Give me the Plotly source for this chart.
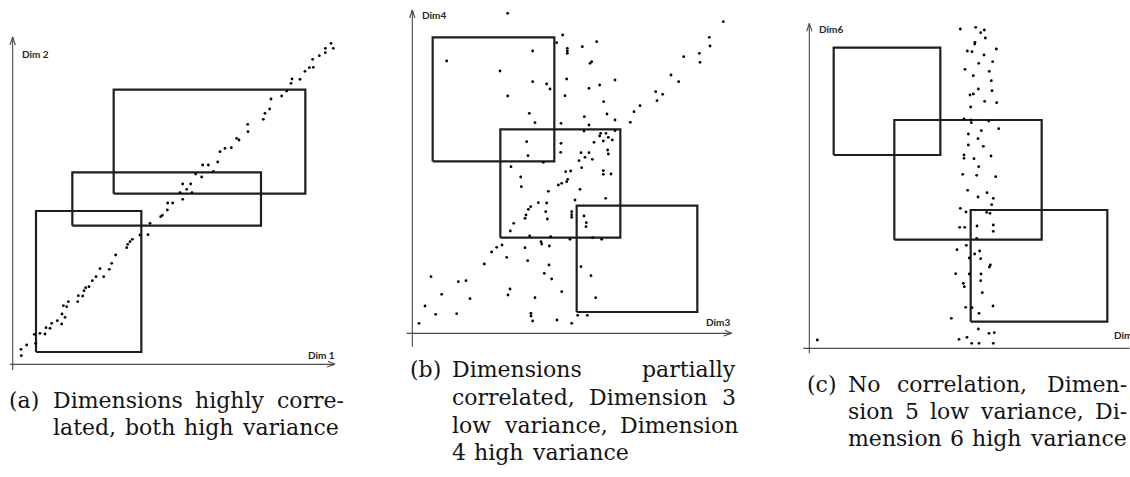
import plotly.graph_objects as go

W, H = 1130, 477

# ---------------- Panel (a): Dim 1 vs Dim 2, strongly correlated ----------------
a_dim1 = [25, 26, 42, 65, 69, 82, 97, 100, 112, 117, 134, 147, 148, 157, 152, 162, 167, 195, 197, 210,
          214, 219, 229, 239, 250, 262, 273, 290, 297, 309, 342, 345, 352, 359, 382, 406, 412, 444, 449, 464,
          465, 480, 510, 502, 522, 538, 510, 534, 549, 567, 570, 587, 602, 615, 622, 637, 656, 672, 679, 705,
          706, 752, 757, 771, 775, 807, 822, 835, 838, 862, 877, 890, 902, 900, 920, 938, 938, 955, 962]
a_dim2 = [45, 26, 58, 90, 63, 93, 91, 110, 108, 123, 131, 121, 151, 141, 176, 173, 188, 188, 206, 205,
          221, 230, 233, 251, 263, 287, 263, 285, 303, 328, 350, 360, 368, 375, 388, 389, 423, 443, 447, 463,
          484, 484, 495, 515, 525, 515, 541, 541, 571, 562, 598, 598, 579, 607, 638, 648, 650, 678, 673, 720,
          698, 735, 753, 766, 796, 805, 820, 843, 856, 855, 879, 890, 891, 915, 926, 935, 948, 963, 948]
a_box_x0 = [70, 179, 303]
a_box_x1 = [386, 745, 878]
a_box_y0 = [37, 416, 512]
a_box_y1 = [460, 576, 824]

# ---------------- Panel (b): Dim 3 vs Dim 4, partially correlated ----------------
b_dim3 = [286, 933, 451, 433, 553, 510, 465, 465, 465, 891, 893, 361, 103, 538, 533, 861, 863, 814, 263, 361,
          403, 413, 463, 530, 562, 608, 776, 799, 286, 458, 730, 751, 734, 574, 683, 665, 584, 351, 516, 368,
          446, 530, 608, 654, 515, 565, 581, 608, 562, 600, 343, 446, 545, 573, 588, 445, 347, 393, 506, 530,
          518, 500, 586, 588, 540, 296, 508, 475, 460, 466, 463, 573, 573, 596, 325, 448, 438, 327, 408, 503,
          488, 580, 378, 403, 355, 348, 341, 338, 400, 405, 478, 478, 478, 515, 522, 521, 304, 294, 352, 415,
          473, 541, 568, 386, 388, 269, 253, 238, 338, 411, 283, 346, 410, 216, 506, 536, 396, 418, 56, 138,
          161, 293, 287, 88, 173, 368, 448, 550, 38, 70, 133, 356, 356, 361, 434, 478, 496, 525, 20]
b_dim4 = [960, 935, 895, 872, 875, 860, 855, 847, 840, 888, 862, 847, 817, 815, 810, 840, 813, 830, 787, 755,
          748, 733, 763, 735, 745, 760, 775, 755, 712, 713, 725, 717, 698, 695, 683, 665, 658, 660, 650, 632,
          630, 625, 640, 633, 607, 600, 600, 608, 592, 580, 575, 570, 573, 577, 588, 543, 533, 513, 542, 542,
          528, 518, 550, 538, 522, 500, 497, 487, 485, 462, 455, 488, 477, 478, 469, 450, 445, 440, 426, 432,
          400, 405, 392, 391, 380, 372, 355, 345, 365, 343, 365, 356, 348, 352, 332, 320, 330, 307, 292, 290,
          282, 287, 282, 275, 268, 265, 258, 244, 257, 262, 228, 218, 205, 208, 200, 173, 180, 163, 170, 155,
          158, 133, 115, 117, 104, 107, 125, 107, 82, 57, 59, 60, 52, 37, 40, 30, 54, 54, 30]
b_box_x0 = [61, 264, 493]
b_box_x1 = [426, 624, 855]
b_box_y0 = [516, 287, 64]
b_box_y1 = [888, 612, 383]

# ---------------- Panel (c): Dim 5 vs Dim 6, no correlation ----------------
c_dim5 = [453, 499, 514, 525, 528, 497, 496, 474, 488, 561, 524, 550, 508, 467, 540, 492, 546, 507, 492, 482,
          548, 526, 562, 484, 464, 484, 486, 538, 568, 516, 477, 506, 477, 522, 464, 464, 494, 545, 508, 460,
          502, 559, 475, 506, 533, 552, 547, 453, 470, 532, 542, 451, 466, 503, 552, 552, 502, 471, 443, 496,
          511, 480, 514, 543, 540, 439, 480, 515, 514, 462, 465, 519, 469, 488, 551, 509, 426, 507, 539, 555,
          449, 473, 487, 509, 552, 24]
c_dim6 = [958, 963, 947, 955, 931, 918, 913, 892, 890, 898, 880, 860, 855, 837, 831, 818, 803, 778, 763, 760,
          773, 741, 737, 724, 688, 685, 677, 682, 659, 653, 643, 629, 610, 606, 580, 570, 569, 577, 545, 522,
          519, 515, 474, 454, 467, 450, 431, 420, 409, 408, 405, 363, 363, 367, 370, 351, 330, 309, 296, 283,
          292, 271, 269, 250, 244, 224, 223, 223, 203, 195, 185, 167, 123, 122, 127, 105, 90, 58, 45, 47,
          27, 33, 15, 15, 15, 25]
c_box_x0 = [73, 255, 484]
c_box_x1 = [393, 697, 894]
c_box_y0 = [580, 326, 80]
c_box_y1 = [902, 685, 415]

axis_names = [("Dim 2", "Dim 1"), ("Dim4", "Dim3"), ("Dim6", "Dim5")]

# Sub-captions: (label, label_left, text_left, [(line, right_edge, baseline), ...])
captions = [
    ("(a)", 8, 52, [("Dimensions highly corre-", 343, 407),
                    ("lated, both high variance", 337, 434)]),
    ("(b)", 409, 451, [("Dimensions partially", 735, 376),
                       ("correlated, Dimension 3", 735, 404),
                       ("low variance, Dimension", 737, 432),
                       ("4 high variance", 627, 459)]),
    ("(c)", 806, 847, [("No correlation, Dimen-", 1125, 391),
                       ("sion 5 low variance, Di-", 1125, 418),
                       ("mension 6 high variance", 1125, 445)]),
]

panels = [
    dict(x=a_dim1, y=a_dim2, bx0=a_box_x0, bx1=a_box_x1, by0=a_box_y0, by1=a_box_y1),
    dict(x=b_dim3, y=b_dim4, bx0=b_box_x0, bx1=b_box_x1, by0=b_box_y0, by1=b_box_y1),
    dict(x=c_dim5, y=c_dim6, bx0=c_box_x0, bx1=c_box_x1, by0=c_box_y0, by1=c_box_y1),
]

# Frame of each panel: axis origin on the page (px), data ranges (3 units per px),
# axis line extents and label anchors.
frames = [
    dict(ox=12.67, oy=364.33, xr=[-36, 1000], yr=[-45, 1000],
         xline=[-8, 967], yline=[-17, 982],
         ylab=(22, 931, "left"), xlab=(973, 27, "right")),
    dict(ox=412.33, oy=333.33, xr=[-40, 1000], yr=[-45, 998],
         xline=[-17, 958], yline=[-40, 970],
         ylab=(23, 955, "left"), xlab=(959, 34, "right")),
    dict(ox=809.33, oy=348.33, xr=[-40, 961], yr=[-45, 1000],
         xline=[-18, 990], yline=[-15, 975],
         ylab=(23, 958, "left"), xlab=(907, 40, "left")),
]

SCALE = 3.0
AXIS_COLOR = "#4a4a4a"
BOX_COLOR = "#1e1e1e"
CAP_FONT = "DejaVu Serif, Liberation Serif, serif"
CAP_SIZE = 22

# approximate DejaVu Serif advance widths (em) for justified caption lines
GLYPH_W = {
    " ": .318, "(": .390, ")": .390, ",": .318, "-": .337,
    "3": .636, "4": .636, "5": .636, "6": .636,
    "D": .770, "N": .750,
    "a": .596, "b": .642, "c": .561, "d": .642, "e": .592, "g": .642, "h": .645,
    "i": .320, "l": .320, "m": .948, "n": .645, "o": .602, "p": .642, "r": .478,
    "s": .513, "t": .402, "v": .581, "w": .855, "y": .581,
}


def word_width(w):
    return sum(GLYPH_W.get(ch, .6) for ch in w) * CAP_SIZE


fig = go.Figure()
shapes = []
annotations = []
layout_axes = {}

for i, (pan, fr) in enumerate(zip(panels, frames)):
    k = "" if i == 0 else str(i + 1)
    xref, yref = "x" + k, "y" + k
    x0 = (fr["ox"] + fr["xr"][0] / SCALE) / W
    x1 = (fr["ox"] + fr["xr"][1] / SCALE) / W
    y0 = (H - fr["oy"] + fr["yr"][0] / SCALE) / H
    y1 = (H - fr["oy"] + fr["yr"][1] / SCALE) / H
    common = dict(visible=False, showgrid=False, zeroline=False, fixedrange=True)
    layout_axes["xaxis" + k] = dict(domain=[max(0, x0), min(1, x1)], range=fr["xr"], anchor=yref, **common)
    layout_axes["yaxis" + k] = dict(domain=[max(0, y0), min(1, y1)], range=fr["yr"], anchor=xref, **common)

    # axis lines with open arrowheads
    xa, xb = fr["xline"]
    ya, yb = fr["yline"]
    line = dict(color=AXIS_COLOR, width=1.1)
    shapes += [
        dict(type="line", xref=xref, yref=yref, x0=xa, x1=xb, y0=0, y1=0, line=line),
        dict(type="line", xref=xref, yref=yref, x0=0, x1=0, y0=ya, y1=yb, line=line),
        dict(type="line", xref=xref, yref=yref, x0=xb - 21, x1=xb, y0=9, y1=0, line=line),
        dict(type="line", xref=xref, yref=yref, x0=xb - 24, x1=xb, y0=-8, y1=0, line=line),
        dict(type="line", xref=xref, yref=yref, x0=-8, x1=0, y0=yb - 24, y1=yb, line=line),
        dict(type="line", xref=xref, yref=yref, x0=8, x1=0, y0=yb - 24, y1=yb, line=line),
    ]

    # rectangles (query boxes)
    for bx0, bx1, by0, by1 in zip(pan["bx0"], pan["bx1"], pan["by0"], pan["by1"]):
        fig.add_trace(go.Scatter(
            x=[bx0, bx1, bx1, bx0, bx0], y=[by0, by0, by1, by1, by0],
            mode="lines", line=dict(color=BOX_COLOR, width=2.2),
            xaxis=xref, yaxis=yref, hoverinfo="skip", showlegend=False))

    # data points
    fig.add_trace(go.Scatter(
        x=pan["x"], y=pan["y"], mode="markers",
        marker=dict(color="#000000", size=2.8, line=dict(width=0)),
        xaxis=xref, yaxis=yref, showlegend=False))

    # axis labels
    label_font = dict(family="Lato, Liberation Sans, sans-serif", size=10, color="#262626")
    ylab_name, xlab_name = axis_names[i]
    lx, ly, anc = fr["ylab"]
    annotations.append(dict(x=lx, y=ly, xref=xref, yref=yref, text="<b>%s</b>" % ylab_name,
                            showarrow=False, xanchor=anc, yanchor="middle", font=label_font))
    lx, ly, anc = fr["xlab"]
    annotations.append(dict(x=lx, y=ly, xref=xref, yref=yref, text="<b>%s</b>" % xlab_name,
                            showarrow=False, xanchor=anc, yanchor="middle", font=label_font))


def caption_word(text, left, base):
    return dict(x=left / W, y=1 - (base - 7) / H, xref="paper", yref="paper",
                text=text, showarrow=False, xanchor="left", yanchor="middle", borderpad=0,
                font=dict(family=CAP_FONT, size=CAP_SIZE, color="#141414"))


# justified sub-captions, placed word by word
for label, label_left, text_left, lines in captions:
    annotations.append(caption_word(label, label_left, lines[0][2]))
    for text, right, base in lines:
        words = text.split(" ")
        widths = [word_width(w) for w in words]
        gap = (right - text_left - sum(widths)) / max(1, len(words) - 1)
        gap = max(gap, GLYPH_W[" "] * CAP_SIZE)
        pos = text_left
        for w, wd in zip(words, widths):
            annotations.append(caption_word(w, pos, base))
            pos += wd + gap

fig.update_layout(
    width=W, height=H, margin=dict(l=0, r=0, t=0, b=0),
    paper_bgcolor="white", plot_bgcolor="white",
    shapes=shapes, annotations=annotations, showlegend=False,
    **layout_axes)

fig.write_html("out.html")
